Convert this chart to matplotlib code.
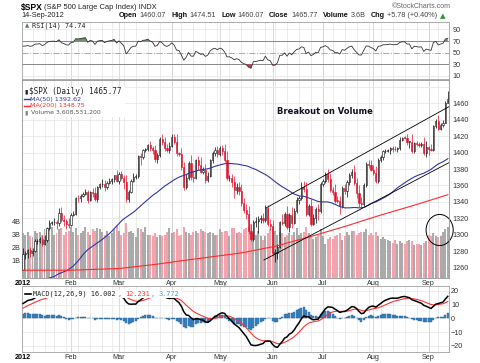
import matplotlib
matplotlib.use("Agg")
import matplotlib.pyplot as plt
import numpy as np
import pandas as pd
from matplotlib.patches import Ellipse
from matplotlib.lines import Line2D

W, H = 480, 363

# closes Oct-Dec 2011, only used to warm up MA(50), RSI and MACD
prior = [1099.23, 1123.95, 1144.03, 1164.97, 1155.46, 1194.89, 1195.54, 1207.25, 1203.66, 1224.58, 1200.86,
         1225.38, 1209.88, 1215.39, 1238.25, 1254.19, 1229.05, 1242.00, 1284.59, 1285.09, 1253.30,
         1218.28, 1237.90, 1261.15, 1253.23, 1261.12, 1275.92, 1229.10, 1239.70, 1263.85, 1251.78, 1257.81,
         1236.91, 1216.13, 1215.65, 1192.98, 1188.04, 1161.79, 1158.67, 1192.55, 1195.19, 1246.96,
         1244.58, 1244.28, 1257.08, 1258.47, 1261.01, 1234.35, 1255.19, 1236.47, 1225.73, 1211.82, 1215.75,
         1219.66, 1205.35, 1241.30, 1243.72, 1254.00, 1265.33, 1265.43, 1249.64, 1263.02, 1257.60]

jan = [1277.06, 1277.30, 1281.06, 1277.81, 1280.70, 1292.08, 1292.48, 1295.50, 1289.09, 1293.67, 1308.04,
       1314.50, 1315.38, 1316.00, 1314.65, 1326.06, 1318.43, 1316.33, 1313.01, 1312.41]
feb = [1324.09, 1325.54, 1344.90, 1344.33, 1347.05, 1349.96, 1351.95, 1342.64, 1351.77, 1350.50, 1343.23,
       1358.04, 1361.23, 1362.21, 1357.66, 1363.46, 1365.74, 1367.59, 1372.18, 1365.68]
mar = [1374.09, 1369.63, 1364.33, 1343.36, 1352.63, 1365.91, 1370.87, 1371.09, 1395.95, 1394.28, 1402.60,
       1404.17, 1409.75, 1405.52, 1402.89, 1392.78, 1397.11, 1416.51, 1412.52, 1405.54, 1403.28, 1408.47]
apr = [1419.04, 1413.38, 1398.96, 1398.08, 1382.20, 1358.59, 1368.71, 1387.57, 1370.26, 1369.57, 1390.78,
       1385.14, 1376.92, 1378.53, 1366.94, 1371.97, 1390.69, 1399.98, 1403.36, 1397.91]
may = [1405.82, 1402.31, 1391.57, 1369.10, 1369.58, 1363.72, 1354.58, 1357.99, 1353.39, 1338.35, 1330.66,
       1324.80, 1304.86, 1295.22, 1315.99, 1316.63, 1318.86, 1320.68, 1317.82, 1332.42, 1313.32, 1310.33]
jun = [1278.04, 1278.18, 1285.50, 1315.13, 1314.99, 1325.66, 1308.93, 1324.18, 1314.88, 1329.10, 1342.84,
       1344.78, 1357.98, 1355.69, 1325.51, 1335.02, 1313.72, 1319.99, 1331.85, 1329.04, 1362.16]
jul = [1365.51, 1374.02, 1367.58, 1354.68, 1352.46, 1341.47, 1341.45, 1334.76, 1356.78, 1353.64, 1363.67,
       1372.78, 1376.51, 1362.66, 1350.52, 1338.31, 1337.89, 1360.02, 1385.97, 1385.30, 1379.32]
aug = [1375.32, 1365.00, 1390.99, 1394.23, 1401.35, 1402.22, 1402.80, 1405.87, 1404.11, 1403.93, 1405.53,
       1415.51, 1418.16, 1418.13, 1413.17, 1413.49, 1402.08, 1411.13, 1410.44, 1409.30, 1410.49, 1399.48, 1406.58]
sep = [1404.94, 1403.44, 1432.12, 1437.92, 1429.08, 1433.56, 1436.56, 1459.99, 1465.77]

# wick lengths above / below the candle body (points)
up_ext = [7, 3, 2, 4, 3, 3, 3, 2, 4, 6, 2, 3, 2, 5, 2, 7, 8, 6, 3, 7,
          2, 4, 1, 3, 3, 2, 4, 3, 2, 5, 8, 1, 2, 6, 4, 2, 3, 2, 1, 7,
          2, 4, 3, 9, 2, 2, 4, 3, 1, 3, 2, 2, 1, 4, 3, 6, 2, 3, 6, 7, 5, 4,
          3, 4, 9, 2, 8, 6, 5, 2, 10, 8, 2, 5, 9, 4, 8, 5, 2, 2, 3, 5,
          2, 3, 8, 10, 3, 5, 8, 5, 6, 9, 6, 7, 10, 8, 2, 5, 4, 3, 6, 4, 4, 6,
          8, 4, 3, 2, 10, 2, 10, 2, 10, 3, 3, 3, 6, 8, 9, 3, 8, 5, 2, 6, 2,
          2, 3, 6, 8, 4, 9, 6, 6, 2, 5, 3, 2, 3, 8, 6, 10, 8, 3, 2, 5, 6,
          6, 8, 2, 3, 2, 2, 2, 1, 2, 4, 1, 3, 1, 2, 5, 1, 9, 2, 3, 2, 3, 8, 7,
          2, 5, 2, 3, 8, 2, 3, 3, 9]
lo_ext = [0, 7, 6, 5, 3, 2, 3, 3, 3, 2, 2, 2, 3, 3, 8, 4, 3, 5, 6, 4,
          2, 1, 2, 4, 5, 1, 2, 4, 1, 4, 2, 3, 2, 3, 4, 2, 2, 4, 3, 2,
          4, 3, 8, 3, 3, 2, 2, 3, 2, 9, 2, 2, 2, 3, 4, 4, 5, 2, 3, 4, 3, 4,
          2, 3, 3, 2, 3, 4, 3, 2, 3, 5, 2, 6, 2, 3, 4, 3, 2, 3, 4, 3,
          2, 5, 3, 2, 4, 5, 10, 5, 5, 3, 4, 5, 4, 3, 3, 7, 14, 5, 3, 2, 3, 5,
          4, 11, 7, 2, 3, 4, 2, 5, 6, 2, 3, 5, 2, 3, 2, 2, 3, 2, 5, 11, 2,
          3, 2, 3, 2, 4, 3, 3, 9, 2, 4, 8, 3, 4, 2, 6, 4, 5, 3, 2, 4, 2,
          2, 2, 2, 2, 3, 2, 2, 4, 3, 2, 3, 2, 2, 2, 4, 7, 2, 2, 3, 2, 3, 2, 5,
          8, 2, 2, 2, 2, 2, 2, 1, 0]

# volume, billions of shares
vol = [3.1, 3.0, 3.2, 2.9, 2.8, 3.3, 3.1, 3.2, 3.0, 3.4, 3.3, 3.5, 3.6, 3.0, 3.1, 3.4, 3.5, 3.0, 3.2, 3.3,
       3.6, 3.2, 3.5, 3.0, 3.1, 3.3, 3.6, 3.2, 3.0, 3.4, 3.3, 3.5, 3.4, 3.2, 3.0, 3.3, 2.9, 3.1, 3.4, 3.7,
       3.3, 3.0, 3.1, 3.9, 3.2, 3.3, 3.1, 2.8, 3.5, 3.4, 3.2, 3.6, 3.0, 3.0, 2.9, 3.1, 2.8, 3.0, 2.9, 3.0, 3.2, 3.5,
       3.1, 3.2, 3.4, 2.9, 3.0, 3.6, 3.2, 3.1, 3.0, 3.2, 3.3, 3.1, 3.4, 3.3, 3.2, 3.1, 3.2, 3.1, 3.0, 3.0,
       3.4, 3.2, 3.3, 3.3, 2.9, 3.5, 3.5, 3.1, 3.2, 3.1, 3.4, 3.5, 3.6, 3.8, 3.1, 3.0, 3.3, 2.9, 2.6, 2.9, 3.1, 3.4,
       3.6, 3.3, 3.0, 3.2, 3.1, 2.8, 3.0, 3.1, 3.0, 3.2, 3.5, 3.0, 3.1, 3.2, 3.6, 3.1, 2.8, 2.7, 2.8, 3.0, 3.4,
       2.9, 2.3, 2.7, 2.8, 2.7, 2.9, 3.0, 3.1, 2.6, 2.9, 3.2, 3.0, 3.3, 3.3, 3.0, 3.1, 3.2, 3.2, 3.4, 3.0, 3.1,
       3.0, 3.2, 2.9, 2.7, 2.8, 2.7, 2.6, 2.5, 2.4, 2.6, 2.3, 2.5, 2.4, 2.3, 2.5, 2.6, 2.5, 2.2, 2.3, 2.3, 2.2, 2.4, 2.5,
       3.0, 2.9, 3.1, 2.9, 2.8, 2.9, 3.2, 3.4, 3.61]

# 200-day MA (bar index, value)
ma200_at = [0, 20, 40, 55, 70, 91, 105, 120, 135, 149, 163, 177]
ma200_val = [1257, 1257, 1259, 1264, 1270, 1278, 1286, 1298, 1311, 1324, 1336, 1348.75]

month_labels = ["2012", "Feb", "Mar", "Apr", "May", "Jun", "Jul", "Aug", "Sep"]
holidays = ["2012-01-16", "2012-02-20", "2012-04-06", "2012-05-28", "2012-07-04", "2012-09-03"]

# trendlines drawn on the chart: (x0, y0, x1, y1) in bar index / price
trend = [(101.2, 1332.6, 178.8, 1458.0), (100.4, 1269.4, 178.8, 1389.8)]

# ---------------------------------------------------------------
close = np.array(jan + feb + mar + apr + may + jun + jul + aug + sep)
n = len(close)
x = np.arange(n)
dates = pd.bdate_range("2012-01-03", "2012-09-14", freq="C", holidays=holidays)
opn = np.r_[prior[-1], close[:-1]]
up = close >= opn
hi = np.maximum(opn, close) + np.array(up_ext)
lo = np.minimum(opn, close) - np.array(lo_ext)
vol = np.array(vol)

allc = pd.Series(prior + list(close))
ma50 = allc.rolling(50).mean().values[-n:]
d = allc.diff()
g = d.clip(lower=0).ewm(alpha=1 / 14, adjust=False).mean()
l = (-d).clip(lower=0).ewm(alpha=1 / 14, adjust=False).mean()
rsi = (100 - 100 / (1 + g / l)).values[-n:]
macd_s = allc.ewm(span=12, adjust=False).mean() - allc.ewm(span=26, adjust=False).mean()
sig_s = macd_s.ewm(span=9, adjust=False).mean()
macd = macd_s.values[-n:]
sig = sig_s.values[-n:]
hist = macd - sig

mstart = [i for i in range(n) if i == 0 or dates[i].month != dates[i - 1].month]
wstart = [i for i in range(1, n) if dates[i].weekday() < dates[i - 1].weekday()]

plt.rcParams["font.family"] = ["Liberation Sans", "DejaVu Sans"]
fig = plt.figure(figsize=(4.8, 3.63), dpi=100)
rend = fig.canvas.get_renderer()


def box(top, bottom, left=22, right=449):
    return [left / W, 1 - bottom / H, (right - left) / W, (bottom - top) / H]


XL = (-0.4, 177.5)
GRID = "#e4e4e4"
MGRID = "#cccccc"
SP = "#a0a0a0"


def frame(a):
    for s in a.spines.values():
        s.set_color(SP)
        s.set_linewidth(0.6)
    a.set_xlim(*XL)
    a.tick_params(length=0, labelsize=5.2, colors="#333333")


def vgrid(a):
    for i in wstart:
        a.axvline(i, color=GRID, lw=0.5, zorder=0)
    for i in mstart[1:]:
        a.axvline(i, color=MGRID, lw=0.5, zorder=0)


def hgrid(a, frac, color=GRID, **kw):
    for f in frac:
        a.plot([0, 1], [f, f], transform=a.transAxes, color=color, lw=0.5, zorder=0, **kw)


# ---- RSI ----
ar = fig.add_axes(box(22, 79))
frame(ar)
vgrid(ar)
ar.set_ylim(4.8, 102.6)
ar.axhline(90, color=GRID, lw=0.5, zorder=0)
ar.axhline(10, color=GRID, lw=0.5, zorder=0)
ar.axhline(70, color="#888888", lw=0.7, zorder=1)
ar.axhline(30, color="#888888", lw=0.7, zorder=1)
ar.axhline(50, color="#aaaaaa", lw=0.7, ls="-.", zorder=1)
ar.fill_between(x, rsi, 70, where=rsi > 70, interpolate=True, color="#6f8f6f", lw=0, zorder=2)
ar.fill_between(x, rsi, 30, where=rsi < 30, interpolate=True, color="#c8384e", lw=0, zorder=2)
ar.plot(x, rsi, color="#333333", lw=0.6, zorder=3)
ar.yaxis.tick_right()
ar.set_yticks([10, 30, 50, 70, 90])
ar.tick_params(axis="y", pad=2.6)
ar.set_xticks([])

# ---- price + volume ----
PY = (1247.5, 1488.3)
av = fig.add_axes(box(80, 278))
frame(av)
vgrid(av)
hgrid(av, [(p - PY[0]) / (PY[1] - PY[0]) for p in range(1260, 1481, 20)])
av.set_ylim(-0.3, 14.8)
vcol = np.where(up, "#aaaaaa", "#f2a3ad")
av.bar(x, vol + 0.3, bottom=-0.3, width=0.78, color=vcol, lw=0, zorder=1)
av.set_yticks([1, 2, 3, 4])
av.set_yticklabels(["1B", "2B", "3B", "4B"])
av.tick_params(axis="y", pad=0.8)
av.set_xticks(mstart)
av.set_xticklabels(month_labels)
av.tick_params(axis="x", pad=1.3)
av.get_xticklabels()[0].set_fontweight("bold")
av.get_xticklabels()[0].set_color("black")
av.add_patch(Ellipse((173.6, 3.36), 11.3, 2.37, fill=False, ec="black", lw=0.7, clip_on=False, zorder=5))

ap = fig.add_axes(box(80, 278), sharex=av)
ap.patch.set_alpha(0)
frame(ap)
ap.set_ylim(*PY)
ap.yaxis.tick_right()
ap.set_yticks(range(1260, 1461, 20))
ap.tick_params(axis="y", pad=2.6)
ap.tick_params(axis="x", labelbottom=False)
ccol = np.where(up, "black", "#e3122e")
ap.vlines(x, lo, hi, colors=ccol, lw=0.5, zorder=2)
body = np.maximum(np.abs(close - opn), 0.6)
ap.bar(x, body, bottom=np.minimum(opn, close), width=0.55,
       color=np.where(up, "white", "#e3122e"), edgecolor=ccol, lw=0.4, zorder=3)
ap.plot(x, ma50, color="#3434a8", lw=0.8, zorder=4)
ap.plot(ma200_at, ma200_val, color="#ff2a2a", lw=0.8, zorder=4)
for x0, y0, x1, y1 in trend:
    ap.plot([x0, x1], [y0, y1], color="black", lw=0.6, zorder=5)

# ---- MACD ----
am = fig.add_axes(box(286, 352))
frame(am)
vgrid(am)
am.set_ylim(-24.5, 23.5)
for v in (-20, -10, 0, 10, 20):
    am.axhline(v, color=GRID, lw=0.5, zorder=0)
am.bar(x, hist, width=0.8, color="#3b88c6", edgecolor="#245f92", lw=0.3, zorder=2)
am.plot(x, sig, color="#ff3333", lw=0.8, zorder=3)
am.plot(x, macd, color="black", lw=1.1, zorder=4)
am.yaxis.tick_right()
am.set_yticks([-20, -10, 0, 10, 20])
am.tick_params(axis="y", pad=1.5)
am.set_xticks(mstart)
am.set_xticklabels(month_labels)
am.tick_params(axis="x", pad=1.3)
am.get_xticklabels()[0].set_fontweight("bold")
am.get_xticklabels()[0].set_color("black")


# ---- texts ----
def put(x0, y, s, width, ha="left", **kw):
    t = fig.text(x0 / W, 1 - y / H, s, fontsize=5, va="center", ha=ha, zorder=10, **kw)
    w = t.get_window_extent(rend).width
    t.set_fontsize(5 * width / w)
    return t


def run(x0, y, parts, width):
    texts, widths = [], []
    for s, gap, kw in parts:
        t = fig.text(0, 1 - y / H, s, fontsize=5, va="center", zorder=10, **kw)
        texts.append(t)
        widths.append(t.get_window_extent(rend).width)
    gaps = sum(p[1] for p in parts)
    f = (width - gaps) / sum(widths)
    xx = x0
    for t, w, (s, gap, kw) in zip(texts, widths, parts):
        t.set_fontsize(5 * f)
        t.set_x(xx / W)
        xx += w * f + gap


def seg(x0, x1, y, color, lw):
    fig.add_artist(Line2D([x0 / W, x1 / W], [1 - y / H, 1 - y / H], color=color, lw=lw, zorder=11))


def blank(x0, y0, x1, y1):
    # white backing behind the in-panel legends
    fig.add_artist(plt.Rectangle((x0 / W, 1 - y1 / H), (x1 - x0) / W, (y1 - y0) / H,
                                 transform=fig.transFigure, color="white", lw=0, zorder=9))


B = dict(fontweight="bold", color="#111111")
R = dict(color="#444444")
put(21, 7.5, r"\$SPX", 22, fontweight="bold")
put(44, 7.8, "(S&P 500 Large Cap Index) INDX", 114, color="#222222")
put(21, 15.5, "14-Sep-2012", 43, color="#222222")
put(451, 6.5, "\u00a9StockCharts.com", 59, ha="right", color="#666666")
run(119, 15.8, [("Open", 2, B), ("1460.07", 5, R), ("High", 2, B), ("1474.51", 5, R),
                ("Low", 2, B), ("1460.07", 5, R), ("Close", 2, B), ("1465.77", 5, R),
                ("Volume", 2, B), ("3.6B", 5, R), ("Chg", 2, B), ("+5.78 (+0.40%)", 3, R),
                ("\u25b2", 0, dict(color="#2a9a2a", family="DejaVu Sans"))], 327)

MONO = dict(family="DejaVu Sans Mono")
blank(23, 22.6, 88, 29)
fig.text(24.5 / W, 1 - 25.5 / H, "\u25b2", fontsize=4, va="center", color="#5a7a5a",
         family="DejaVu Sans", zorder=10)
put(32, 25.5, "RSI(14) 74.74", 54, color="#222222", **MONO)

blank(23, 87, 125, 116.5)
fig.text(24 / W, 1 - 91.7 / H, "\u25ae", fontsize=4.5, va="center", color="#222222",
         family="DejaVu Sans", zorder=10)
put(29, 91.7, r"\$SPX (Daily) 1465.77", 94, color="#222222", **MONO)
seg(24, 30, 99.3, "#3434a8", 1.0)
put(30, 99.3, "MA(50) 1392.62", 52, color="#3434a8", family="DejaVu Sans")
seg(24, 30, 106, "#ff2a2a", 1.0)
put(30, 106, "MA(200) 1348.75", 56, color="#ff2a2a", family="DejaVu Sans")
fig.text(24 / W, 1 - 112.7 / H, "\u25ae", fontsize=4.5, va="center", color="#888888",
         family="DejaVu Sans", zorder=10)
put(31, 112.7, "Volume 3,608,531,200", 71, color="#555555", family="DejaVu Sans")

put(277, 111, "Breakout on Volume", 97, color="#111122", fontweight="bold", family="DejaVu Sans")

blank(23, 290, 182, 298)
seg(25, 31, 294, "black", 1.2)
run(33, 294, [("MACD(12,26,9) 16.002", 0, dict(color="#222222", **MONO)),
              (",", 4, dict(color="#ff3333", **MONO)), ("12.231", 0, dict(color="#ff3333", **MONO)),
              (",", 4, dict(color="#3b9ad8", **MONO)), ("3.772", 0, dict(color="#3b9ad8", **MONO))], 147)

fig.savefig("out.png", dpi=100)
